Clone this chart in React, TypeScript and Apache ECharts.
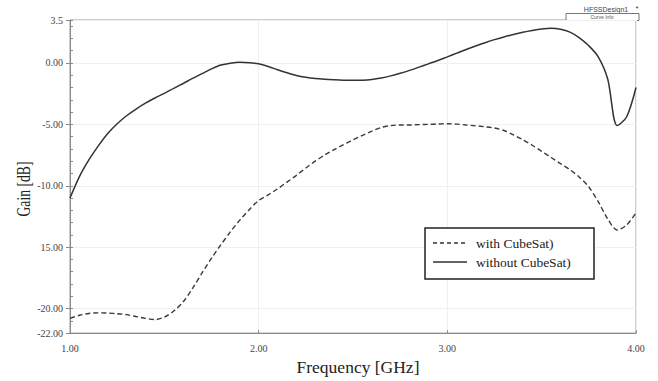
import React, { useEffect, useRef } from "react";
import * as echarts from "echarts";

const freq = [
  1.0, 1.05, 1.1, 1.15, 1.2, 1.25, 1.3, 1.35, 1.4, 1.45, 1.5, 1.55, 1.6, 1.65, 1.7, 1.75, 1.8, 1.85, 1.9, 1.95,
  2.0, 2.05, 2.1, 2.15, 2.2, 2.25, 2.3, 2.35, 2.4, 2.45, 2.5, 2.55, 2.6, 2.65, 2.7, 2.75, 2.8, 2.85, 2.9, 2.95,
  3.0, 3.05, 3.1, 3.15, 3.2, 3.25, 3.3, 3.35, 3.4, 3.45, 3.5, 3.55, 3.6, 3.65, 3.7, 3.75, 3.8, 3.85, 3.9, 3.95, 4.0,
];

const withGain = [
  -20.8, -20.55, -20.4, -20.35, -20.37, -20.42, -20.5, -20.65, -20.8, -20.9, -20.7, -20.2, -19.45, -18.35, -17.1, -15.9, -14.8, -13.75, -12.8, -11.95,
  -11.2, -10.75, -10.25, -9.7, -9.15, -8.55, -8.0, -7.5, -7.05, -6.65, -6.25, -5.9, -5.55, -5.25, -5.1, -5.05, -5.05, -5.02, -5.0, -4.97,
  -4.95, -4.98, -5.05, -5.12, -5.2, -5.3, -5.5, -5.85, -6.25, -6.7, -7.2, -7.7, -8.2, -8.7, -9.3, -10.1, -11.3, -12.7, -13.6, -13.2, -12.2,
];

const withoutGain = [
  -11.0, -9.25, -7.9, -6.75, -5.75, -4.95, -4.3, -3.75, -3.27, -2.85, -2.47, -2.07, -1.67, -1.26, -0.87, -0.48, -0.17, -0.02, 0.05, 0.02,
  -0.07, -0.28, -0.55, -0.8, -1.02, -1.17, -1.27, -1.33, -1.37, -1.4, -1.41, -1.4, -1.34, -1.22, -1.05, -0.84, -0.6, -0.34, -0.07, 0.2,
  0.5, 0.8, 1.1, 1.38, 1.65, 1.9, 2.12, 2.32, 2.5, 2.65, 2.77, 2.83, 2.75, 2.51, 2.05, 1.4, 0.5, -1.3, -5.1, -4.4, -2.0,
];

const yTickValues = [-22, -20, -15, -10, -5, 0, 3.5];
const yTickLabels: Record<string, string> = {
  "-22": "-22.00",
  "-20": "-20.00",
  "-15": "15.00",
  "-10": "-10.00",
  "-5": "-5.00",
  "0": "0.00",
  "3.5": "3.5",
};
const seriesNames = ["with CubeSat)", "without CubeSat)"];

const FONT = "'Liberation Serif', 'DejaVu Serif', serif";
const SANS = "'Liberation Sans', 'DejaVu Sans', sans-serif";

export default function App() {
  const ref = useRef<HTMLDivElement>(null);
  useEffect(() => {
    if (!ref.current) return;
    const chart = echarts.init(ref.current, null, { renderer: "svg" });
    const zip = (xs: number[], ys: number[]) => xs.map((x, i) => [x, ys[i]]);
    chart.setOption({
      animation: false,
      backgroundColor: "#ffffff",
      grid: {
        left: 70,
        right: 22,
        top: 20,
        bottom: 42,
        show: true,
        borderColor: "#9a9a9a",
        borderWidth: 1,
      },
      xAxis: {
        type: "value",
        min: 1,
        max: 4,
        interval: 1,
        name: "Frequency [GHz]",
        nameLocation: "middle",
        nameGap: 12,
        nameTextStyle: { fontFamily: FONT, fontSize: 17.5, color: "#222", padding: [0, 0, 0, 10] },
        axisLine: { onZero: false, lineStyle: { color: "#8a8a8a", width: 1 } },
        axisTick: { show: true, inside: true, length: 3, lineStyle: { color: "#8a8a8a" } },
        axisLabel: {
          fontFamily: FONT,
          fontSize: 10,
          color: "#444",
          margin: 10,
          formatter: (v: number) => v.toFixed(2),
        },
        splitLine: { show: true, lineStyle: { color: "#efefef", width: 1 } },
      },
      yAxis: [
        {
          type: "value",
          min: -22,
          max: 3.5,
          axisLine: { show: true, onZero: false, lineStyle: { color: "#8a8a8a", width: 1 } },
          axisTick: {
            show: true,
            length: 4,
            customValues: yTickValues,
            lineStyle: { color: "#8a8a8a" },
          },
          axisLabel: {
            fontFamily: FONT,
            fontSize: 10,
            color: "#444",
            margin: 7,
            customValues: yTickValues,
            formatter: (v: number) => yTickLabels[String(v)] ?? v.toFixed(2),
          },
          splitLine: { show: true, lineStyle: { color: "#efefef", width: 1 } },
        },
        {
          type: "value",
          min: -22,
          max: 3.5,
          interval: 1,
          position: "left",
          axisLine: { show: false, onZero: false },
          axisTick: { show: true, inside: true, length: 3, lineStyle: { color: "#8a8a8a" } },
          axisLabel: { show: false },
          splitLine: { show: false },
        },
      ],
      graphic: [
        {
          type: "text",
          x: 24,
          y: 189,
          rotation: Math.PI / 2,
          scaleX: 0.76,
          style: {
            text: "Gain [dB]",
            fontFamily: FONT,
            fontSize: 18,
            fill: "#222",
            textAlign: "center",
            textVerticalAlign: "middle",
          },
        },
        {
          type: "text",
          x: 606,
          y: 9,
          style: { text: "HFSSDesign1", fontFamily: SANS, fontSize: 7, fill: "#444", textAlign: "center", textVerticalAlign: "middle" },
        },
        {
          type: "text",
          x: 637,
          y: 8,
          style: { text: "*", fontFamily: SANS, fontSize: 8, fill: "#444", textAlign: "center", textVerticalAlign: "middle" },
        },
        {
          type: "rect",
          shape: { x: 566, y: 13.5, width: 73, height: 7 },
          style: { fill: "#ffffff", stroke: "#777", lineWidth: 1 },
        },
        {
          type: "text",
          x: 602,
          y: 17,
          style: { text: "Curve Info", fontFamily: SANS, fontSize: 5, fill: "#555", textAlign: "center", textVerticalAlign: "middle" },
        },
        {
          type: "rect",
          z: 10,
          shape: { x: 425, y: 228, width: 169, height: 51 },
          style: { fill: "#ffffff", stroke: "#222", lineWidth: 1.5 },
        },
        {
          type: "line",
          z: 11,
          shape: { x1: 433, y1: 243, x2: 467, y2: 243 },
          style: { stroke: "#333", lineWidth: 1.4, lineDash: [4, 3] },
        },
        {
          type: "line",
          z: 11,
          shape: { x1: 433, y1: 262, x2: 467, y2: 262 },
          style: { stroke: "#333", lineWidth: 1.5 },
        },
        {
          type: "text",
          z: 11,
          x: 476,
          y: 243,
          style: { text: seriesNames[0], fontFamily: FONT, fontSize: 13.5, fill: "#222", textVerticalAlign: "middle" },
        },
        {
          type: "text",
          z: 11,
          x: 476,
          y: 262,
          style: { text: seriesNames[1], fontFamily: FONT, fontSize: 13.5, fill: "#222", textVerticalAlign: "middle" },
        },
      ],
      series: [
        {
          name: seriesNames[0],
          type: "line",
          data: zip(freq, withGain),
          showSymbol: false,
          symbol: "none",
          smooth: 0.3,
          lineStyle: { color: "#3a3a3a", width: 1.4, type: [5, 3] },
          itemStyle: { color: "#3a3a3a" },
        },
        {
          name: seriesNames[1],
          type: "line",
          data: zip(freq, withoutGain),
          showSymbol: false,
          symbol: "none",
          smooth: 0.3,
          lineStyle: { color: "#333", width: 1.5, type: "solid" },
          itemStyle: { color: "#333" },
        },
      ],
    });
    return () => chart.dispose();
  }, []);
  return <div ref={ref} style={{ position: "fixed", left: 0, top: 0, width: 658, height: 381 }} />;
}
